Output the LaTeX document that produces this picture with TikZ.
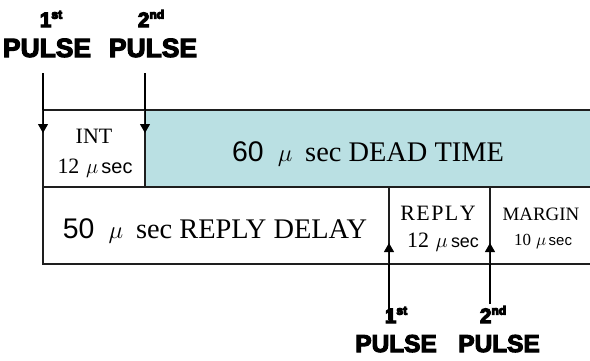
\documentclass[tikz,border=0pt]{standalone}
\usepackage{fontspec}
\usetikzlibrary{arrows.meta}
\setmainfont{Liberation Serif}
\newfontfamily\pulsefont{Liberation Sans}
\newfontfamily\arialf{Liberation Sans}
\definecolor{teal1}{RGB}{186,224,227}
\definecolor{edge}{RGB}{30,30,30}
\newcommand{\mysup}[1]{\raisebox{0.4em}{\fontsize{12}{12}\selectfont #1}}
\newcommand{\heavy}[1]{\special{pdf:literal direct 2 Tr 1.1 w}#1\special{pdf:literal direct 0 Tr}}
\begin{document}
\begin{tikzpicture}[x=1bp,y=-1bp,
  border/.style={draw=edge, line width=1.2bp},
  pulseline/.style={draw=black, line width=2.8bp},
  tipline/.style={draw=black, line width=1bp, -{Triangle[length=9bp,width=10bp]}},
  txt/.style={inner sep=0pt, anchor=base},
  bigtxt/.style={txt, font=\fontsize{28.5}{32}\selectfont},
  midtxt/.style={txt, font=\fontsize{22}{26}\selectfont},
  smalltxt/.style={txt, font=\fontsize{19}{22}\selectfont},
  pulsetxt/.style={txt, font=\pulsefont\bfseries\fontsize{24.5}{28}\selectfont},
  toppulsetxt/.style={txt, font=\pulsefont\bfseries\fontsize{26.5}{30}\selectfont},
  ordtxt/.style={txt, font=\pulsefont\bfseries\fontsize{21}{24}\selectfont}]
\useasboundingbox (0,0) rectangle (590,360);
\fill[white] (0,0) rectangle (590,360);
% cells
\fill[teal1] (145,110) rectangle (590,187);
\coordinate (tl) at (43,110);
\coordinate (intne) at (145,110);
\coordinate (intse) at (145,187);
\coordinate (ml) at (43,187);
\coordinate (bl) at (43,264);
\coordinate (r1b) at (389,264);
\coordinate (r1t) at (389,187);
\coordinate (r2b) at (490,264);
\coordinate (r2t) at (490,187);
\draw[border] (590,110) -- (tl) -- (bl) -- (590,264);
\draw[border] (ml) -- (590,187);
\draw[border] (intne) -- (intse);
\draw[border] (r1t) -- (r1b);
\draw[border] (r2t) -- (r2b);
% texts in cells
\node[midtxt] (int) at (94,143) {INT};
\node[midtxt] (int12) at (95,173) {12\hspace{0.3em}$\mu$\hspace{0.15em}{\arialf\fontsize{20}{24}\selectfont sec}};
\node[bigtxt] (dead) at (368,161) {{\arialf 60}\hspace{0.5em}$\mu$\hspace{0.45em}sec DEAD TIME};
\node[bigtxt] (delay) at (215,238) {{\arialf 50}\hspace{0.5em}$\mu$\hspace{0.45em}sec REPLY DELAY};
\node[midtxt] (reply) at (438,220) {R\kern1.5bp E\kern1.5bp P\kern1.5bp L\kern1.5bp Y};
\node[midtxt] (reply12) at (443,247) {12\hspace{0.3em}$\mu$\hspace{0.15em}{\arialf\fontsize{18}{20}\selectfont sec}};
\node[smalltxt] (margin) at (541,220) {MARGIN};
\node[txt, font=\fontsize{17}{20}\selectfont] (margin10) at (543,245) {10\hspace{0.3em}$\mu$\hspace{0.15em}{\arialf\fontsize{15}{18}\selectfont sec}};
% top pulses
\node[ordtxt] (t1ord) at (51,27) {\heavy{1\mysup{st}}};
\node[toppulsetxt] (t1lab) at (47,57) {\heavy{PULSE}};
\node[ordtxt] (t2ord) at (151,27) {\heavy{2\mysup{nd}}};
\node[toppulsetxt] (t2lab) at (153,57) {\heavy{PULSE}};
\coordinate (t1s) at (43,73);
\coordinate (t1tip) at (43,133);
\coordinate (t2s) at (145,73);
\coordinate (t2tip) at (145,133);
\draw[pulseline] (t1s) -- (tl);
\draw[tipline] (tl) -- (t1tip);
\draw[pulseline] (t2s) -- (intne);
\draw[tipline] (intne) -- (t2tip);
% bottom pulses
\coordinate (b1s) at (389,320);
\coordinate (b1tip) at (389,243);
\coordinate (b2s) at (490,304);
\coordinate (b2tip) at (490,243);
\draw[pulseline] (b1s) -- (r1b);
\draw[tipline] (r1b) -- (b1tip);
\draw[pulseline] (b2s) -- (r2b);
\draw[tipline] (r2b) -- (b2tip);
\node[ordtxt] (b1ord) at (396,323) {\heavy{1\mysup{st}}};
\node[pulsetxt] (b1lab) at (396,352) {\heavy{PULSE}};
\node[ordtxt] (b2ord) at (493,323) {\heavy{2\mysup{nd}}};
\node[pulsetxt] (b2lab) at (499,352) {\heavy{PULSE}};
\end{tikzpicture}
\end{document}
